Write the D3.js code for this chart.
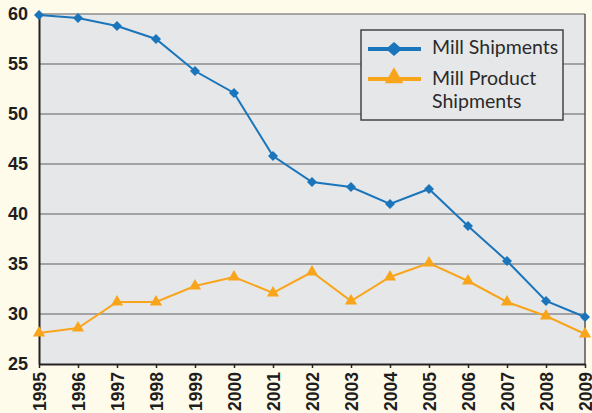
<!DOCTYPE html>
<html>
<head>
<meta charset="utf-8">
<script src="https://cdn.jsdelivr.net/npm/d3@7"></script>
<style>
  body { margin: 0; background: #fffbea; }
  svg { display: block; }
</style>
</head>
<body>
<script>
// data
const years = [1995, 1996, 1997, 1998, 1999, 2000, 2001, 2002, 2003, 2004, 2005, 2006, 2007, 2008, 2009];
const millShipments = [59.9, 59.6, 58.8, 57.5, 54.3, 52.1, 45.8, 43.2, 42.7, 41.0, 42.5, 38.8, 35.3, 31.3, 29.7];
const millProductShipments = [28.1, 28.6, 31.2, 31.2, 32.8, 33.7, 32.1, 34.2, 31.3, 33.7, 35.1, 33.3, 31.2, 29.8, 28.0];
const yTicks = [25, 30, 35, 40, 45, 50, 55, 60];
const seriesNames = ["Mill Shipments", "Mill Product Shipments"];

const W = 592, H = 413;
const margin = {top: 14, right: 7, bottom: 49, left: 39};
const width = W - margin.left - margin.right;
const height = H - margin.top - margin.bottom;

const blue = "#1b75bb", orange = "#f9a51c";
const tickFont = "'Liberation Sans', Arial, sans-serif";

const svg = d3.select("body").append("svg")
    .attr("width", W)
    .attr("height", H)
    .style("background", "#fffbea");

const g = svg.append("g")
    .attr("transform", "translate(" + margin.left + "," + margin.top + ")");

const x = d3.scaleLinear().domain([1995, 2009]).range([0, width]);
const y = d3.scaleLinear().domain([25, 60]).range([height, 0]);

// plot background
g.append("rect")
    .attr("width", width)
    .attr("height", height)
    .attr("fill", "#e6e7e9");

// gridlines
g.append("g")
  .selectAll("line")
  .data(yTicks.filter(d => d > 25))
  .join("line")
    .attr("x1", 0).attr("x2", width)
    .attr("y1", d => y(d)).attr("y2", d => y(d))
    .attr("stroke", "#8c8c8e")
    .attr("stroke-width", 1.5);

// right border
g.append("line")
    .attr("x1", width).attr("x2", width)
    .attr("y1", 0).attr("y2", height)
    .attr("stroke", "#555")
    .attr("stroke-width", 1.5);

// x axis
const xAxis = d3.axisBottom(x)
    .tickValues(years)
    .tickFormat(d3.format("d"))
    .tickSize(4)
    .tickSizeOuter(0);
const gx = g.append("g")
    .attr("transform", "translate(0," + height + ")")
    .call(xAxis);
gx.select(".domain").attr("stroke", "#222").attr("stroke-width", 2);
gx.selectAll(".tick line").attr("stroke", "#222").attr("stroke-width", 1.5);
gx.selectAll(".tick text")
    .attr("transform", "rotate(-90)")
    .attr("text-anchor", "end")
    .attr("x", -8)
    .attr("y", 0)
    .attr("dy", "0.36em")
    .attr("fill", "#1e1e1e")
    .style("font-family", tickFont)
    .style("font-weight", "bold")
    .style("font-size", "17.5px");

// y axis
const yAxis = d3.axisLeft(y)
    .tickValues(yTicks)
    .tickSize(0)
    .tickPadding(11);
const gy = g.append("g").call(yAxis);
gy.select(".domain").attr("stroke", "#222").attr("stroke-width", 2);
gy.selectAll(".tick text")
    .attr("fill", "#1e1e1e")
    .style("font-family", tickFont)
    .style("font-weight", "bold")
    .style("font-size", "18px");

// lines
const line = d3.line()
    .x((d, i) => x(years[i]))
    .y(d => y(d));

g.append("path")
    .datum(millProductShipments)
    .attr("fill", "none")
    .attr("stroke", orange)
    .attr("stroke-width", 2)
    .attr("d", line);

g.append("path")
    .datum(millShipments)
    .attr("fill", "none")
    .attr("stroke", blue)
    .attr("stroke-width", 2)
    .attr("d", line);

// markers
const tri = d3.symbol().type(d3.symbolTriangle).size(64);
const dia = d3.symbol().type(d3.symbolSquare).size(50);

g.append("g")
  .selectAll("path")
  .data(millProductShipments)
  .join("path")
    .attr("d", tri)
    .attr("transform", (d, i) => "translate(" + x(years[i]) + "," + y(d) + ")")
    .attr("fill", orange);

g.append("g")
  .selectAll("path")
  .data(millShipments)
  .join("path")
    .attr("d", dia)
    .attr("transform", (d, i) => "translate(" + x(years[i]) + "," + y(d) + ") rotate(45)")
    .attr("fill", blue);

// legend
const legend = svg.append("g").attr("transform", "translate(361,30)");
legend.append("rect")
    .attr("width", 202)
    .attr("height", 90)
    .attr("fill", "#e6e7e9")
    .attr("stroke", "#444")
    .attr("stroke-width", 1.5);

const lfont = "Lato, 'Open Sans', sans-serif";

legend.append("line")
    .attr("x1", 7).attr("x2", 60)
    .attr("y1", 19).attr("y2", 19)
    .attr("stroke", blue)
    .attr("stroke-width", 4);
legend.append("path")
    .attr("d", d3.symbol().type(d3.symbolSquare).size(100))
    .attr("transform", "translate(33,19) scale(1.15,1) rotate(45)")
    .attr("fill", blue);

legend.append("line")
    .attr("x1", 7).attr("x2", 60)
    .attr("y1", 49).attr("y2", 49)
    .attr("stroke", orange)
    .attr("stroke-width", 4);
legend.append("path")
    .attr("d", d3.symbol().type(d3.symbolTriangle).size(150))
    .attr("transform", "translate(33,48)")
    .attr("fill", orange);

legend.append("text")
    .attr("x", 71).attr("y", 24)
    .attr("fill", "#2a2a2a")
    .style("font-family", lfont)
    .style("font-size", "19.5px")
    .text(seriesNames[0]);

legend.append("text")
    .attr("x", 71).attr("y", 55)
    .attr("fill", "#2a2a2a")
    .style("font-family", lfont)
    .style("font-size", "19.5px")
    .text("Mill Product");

legend.append("text")
    .attr("x", 71).attr("y", 78)
    .attr("fill", "#2a2a2a")
    .style("font-family", lfont)
    .style("font-size", "19.5px")
    .text("Shipments");
</script>
</body>
</html>
